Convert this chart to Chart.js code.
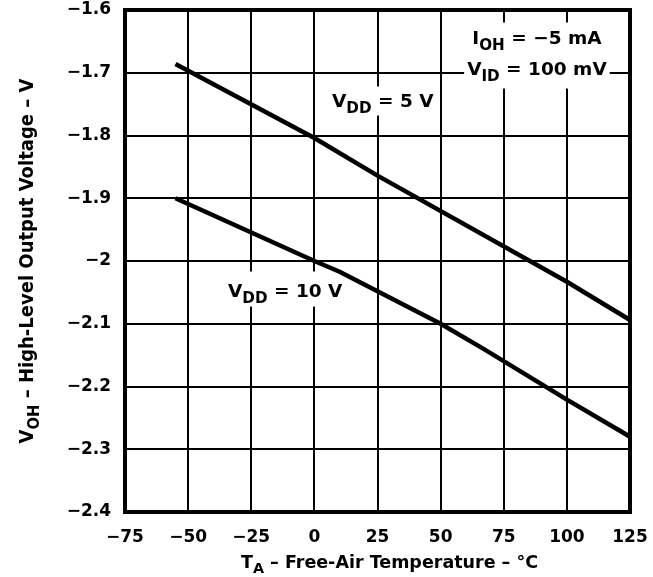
<!DOCTYPE html>
<html>
<head>
<meta charset="utf-8">
<script src="https://cdn.jsdelivr.net/npm/chart.js@4/dist/chart.umd.min.js"></script>
<style>
  html, body { margin: 0; padding: 0; background: #fff; }
  #wrap { width: 653px; height: 577px; }
</style>
</head>
<body>
<div id="wrap"><canvas id="c" width="653" height="577"></canvas></div>
<script>
// Free-air temperature (°C) and high-level output voltage (V) for each supply
const tempsVdd5 = [-55, 0, 25, 100, 125];
const voltsVdd5 = [-1.686, -1.804, -1.864, -2.033, -2.094];

const tempsVdd10 = [-55, 0, 10, 50, 67, 100, 125];
const voltsVdd10 = [-1.9, -2.0, -2.017, -2.1, -2.14, -2.221, -2.28];

// Axis tick labels
const xTickLabels = ['\u221275', '\u221250', '\u221225', '0', '25', '50', '75', '100', '125'];
const yTickLabels = ['\u22122.4', '\u22122.3', '\u22122.2', '\u22122.1', '\u22122', '\u22121.9', '\u22121.8', '\u22121.7', '\u22121.6'];

const FONT = '"DejaVu Sans", "Liberation Sans", sans-serif';

function toPoints(xs, ys) {
  return xs.map((x, i) => ({ x: x, y: ys[i] }));
}

// Fixed axis sizes; the outer margins come from layout.padding alone
function fixAxis(size, vertical) {
  return function (s) {
    if (vertical) s.width = size; else s.height = size;
    s.paddingTop = s.paddingBottom = s.paddingLeft = s.paddingRight = 0;
  };
}

// Draw a run of text segments, some of them subscripts
function richWidth(ctx, segs, size) {
  let w = 0;
  segs.forEach(s => {
    ctx.font = 'bold ' + (s.sub ? size * 0.82 : size) + 'px ' + FONT;
    w += ctx.measureText(s.t).width;
  });
  return w;
}
function drawRich(ctx, segs, x, y, size, align) {
  const w = richWidth(ctx, segs, size);
  let cx = align === 'center' ? x - w / 2 : x;
  ctx.textBaseline = 'alphabetic';
  ctx.textAlign = 'left';
  ctx.fillStyle = '#000';
  segs.forEach(s => {
    const fs = s.sub ? size * 0.82 : size;
    ctx.font = 'bold ' + fs + 'px ' + FONT;
    ctx.fillText(s.t, cx, s.sub ? y + size * 0.3 : y);
    cx += ctx.measureText(s.t).width;
  });
  return w;
}

// Curve labels and test conditions, placed in data units
const notes = [
  { x: 7, y: -1.7546, size: 18.5, lines: [[{ t: 'V' }, { t: 'DD', sub: true }, { t: ' = 5 V' }]], pad: [4, 7, 3, 4] },
  { x: -34.2, y: -2.0574, size: 18.5, lines: [[{ t: 'V' }, { t: 'DD', sub: true }, { t: ' = 10 V' }]], pad: [4, 12, 4, 4] },
  { x: 60.5, y: -1.6542, size: 18.5, lines: [
      [{ t: 'I' }, { t: 'OH', sub: true }, { t: ' = \u22125 mA' }],
      [{ t: 'V' }, { t: 'ID', sub: true }, { t: ' = 100 mV' }]
    ], lineGap: 31, pad: [3, 8, 8, 3] }
];

const annotate = {
  id: 'annotate',
  beforeDatasetsDraw(chart) {
    const ctx = chart.ctx;
    const xs = chart.scales.x, ys = chart.scales.y;
    ctx.save();
    notes.forEach(n => {
      const x0 = xs.getPixelForValue(n.x);
      const y0 = ys.getPixelForValue(n.y);
      const gap = n.lineGap || 0;
      let wMax = 0;
      n.lines.forEach(l => { wMax = Math.max(wMax, richWidth(ctx, l, n.size)); });
      const capH = n.size * 0.73;
      const top = y0 - capH - n.pad[1];
      const bottom = y0 + gap * (n.lines.length - 1) + n.size * 0.3 + n.pad[2];
      ctx.fillStyle = '#fff';
      ctx.fillRect(x0 - n.pad[0], top, wMax + n.pad[0] + n.pad[3], bottom - top);
      n.lines.forEach((l, i) => {
        const lw = richWidth(ctx, l, n.size);
        drawRich(ctx, l, x0 + (wMax - lw) / 2, y0 + gap * i, n.size, 'left');
      });
    });
    ctx.restore();
  },
  afterDatasetsDraw(chart) {
    const ctx = chart.ctx;
    const a = chart.chartArea;
    ctx.save();
    // plot frame
    ctx.strokeStyle = '#000';
    ctx.lineWidth = 4;
    ctx.strokeRect(a.left, a.top, a.right - a.left, a.bottom - a.top);
    // axis titles
    drawRich(ctx, [{ t: 'T' }, { t: 'A', sub: true }, { t: ' \u2013 Free-Air Temperature \u2013 \u00b0C' }],
      (a.left + a.right) / 2 + 12, 568, 17.5, 'center');
    ctx.translate(25, (a.top + a.bottom) / 2);
    ctx.rotate(-Math.PI / 2);
    ctx.scale(1, 1.12);
    drawRich(ctx, [{ t: 'V' }, { t: 'OH', sub: true }, { t: ' \u2013 High-Level Output Voltage \u2013 V' }],
      0, 7, 18, 'center');
    ctx.restore();
  }
};

new Chart(document.getElementById('c'), {
  type: 'line',
  data: {
    datasets: [
      { label: 'VDD = 5 V', data: toPoints(tempsVdd5, voltsVdd5) },
      { label: 'VDD = 10 V', data: toPoints(tempsVdd10, voltsVdd10) }
    ]
  },
  options: {
    responsive: false,
    devicePixelRatio: 1,
    animation: false,
    events: [],
    layout: { autoPadding: false, padding: { top: 10, right: 23, left: 0, bottom: 0 } },
    elements: {
      line: { borderColor: '#000', borderWidth: 4.5, tension: 0, fill: false, borderCapStyle: 'butt' },
      point: { radius: 0 }
    },
    plugins: { legend: { display: false }, tooltip: { enabled: false } },
    scales: {
      x: {
        type: 'linear',
        min: -75, max: 125,
        afterFit: fixAxis(65, false),
        ticks: {
          stepSize: 25,
          color: '#000',
          padding: 15,
          maxRotation: 0,
          font: { family: FONT, size: 17, weight: 'bold' },
          callback: (v, i) => xTickLabels[i]
        },
        grid: { color: '#000', lineWidth: 2, drawTicks: false },
        border: { display: true, color: '#000', width: 4 }
      },
      y: {
        type: 'linear',
        min: -2.4, max: -1.6,
        afterFit: fixAxis(125, true),
        ticks: {
          stepSize: 0.1,
          color: '#000',
          padding: 14,
          font: { family: FONT, size: 17, weight: 'bold' },
          callback: (v, i) => yTickLabels[i]
        },
        grid: { color: '#000', lineWidth: 2, drawTicks: false },
        border: { display: true, color: '#000', width: 4 }
      }
    }
  },
  plugins: [annotate]
});
</script>
</body>
</html>
